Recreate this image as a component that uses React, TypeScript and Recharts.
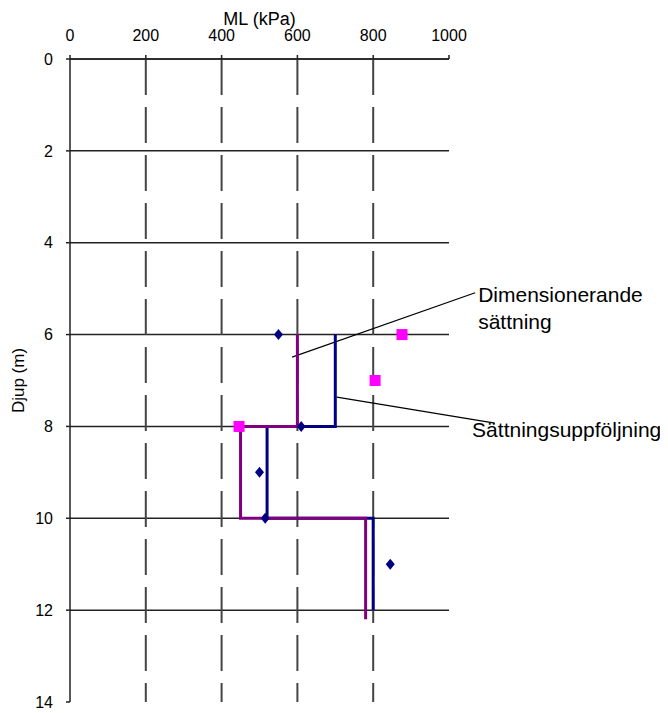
import {
  ScatterChart,
  Scatter,
  XAxis,
  YAxis,
  CartesianGrid,
  ReferenceLine,
  ReferenceDot,
} from "recharts";

const FONT = '"Liberation Sans", Arial, sans-serif';

// Axis ticks
const mlTicks = [0, 200, 400, 600, 800, 1000];
const depthTicks = [0, 2, 4, 6, 8, 10, 12, 14];
const depthGrid = [0, 2, 4, 6, 8, 10, 12];
const mlGrid = [200, 400, 600, 800];

// Measured ML values (kPa) against depth (m)
const diamondPoints = [
  { ml: 550, depth: 6 },
  { ml: 610, depth: 8 },
  { ml: 500, depth: 9 },
  { ml: 515, depth: 10 },
  { ml: 845, depth: 11 },
];
const squarePoints = [
  { ml: 876, depth: 6 },
  { ml: 805, depth: 7 },
  { ml: 446, depth: 8 },
];

// Layered ML profiles: one value per depth interval
const followUpLayers = [
  { top: 6, bottom: 8, ml: 700 },
  { top: 8, bottom: 10, ml: 520 },
  { top: 10, bottom: 12, ml: 800 },
];
const designLayers = [
  { top: 6, bottom: 8, ml: 600 },
  { top: 8, bottom: 10, ml: 450 },
  { top: 10, bottom: 12.2, ml: 780 },
];

// Callout texts and their leader lines, in data units
const callouts = [
  { ml: 1077, depth: 5.29, text: "Dimensionerande" },
  { ml: 1077, depth: 5.88, text: "sättning" },
  { ml: 1061, depth: 8.23, text: "Sättningsuppföljning" },
];
const leaders = [
  { from: { ml: 586, depth: 6.49 }, to: { ml: 1069, depth: 5.09 } },
  { from: { ml: 704, depth: 7.36 }, to: { ml: 1121, depth: 7.93 } },
];

function toSteps(layers: { top: number; bottom: number; ml: number }[]) {
  const pts: { ml: number; depth: number }[] = [];
  layers.forEach((l) => {
    pts.push({ ml: l.ml, depth: l.top });
    pts.push({ ml: l.ml, depth: l.bottom });
  });
  return pts;
}

const followUpSteps = toSteps(followUpLayers);
const designSteps = toSteps(designLayers);

const NoMarker = () => <g />;

function Diamond(props: any) {
  const { cx, cy } = props;
  return (
    <polygon
      points={`${cx},${cy - 5.5} ${cx + 4.5},${cy} ${cx},${cy + 5.5} ${cx - 4.5},${cy}`}
      fill="#000080"
    />
  );
}

function Square(props: any) {
  const { cx, cy } = props;
  return <rect x={cx - 5.5} y={cy - 5.5} width={11} height={11} fill="#ff00ff" />;
}

function calloutShape(text: string) {
  return (props: any) => (
    <text x={props.cx} y={props.cy} fontSize={21} fontFamily={FONT} fill="#000">
      {text}
    </text>
  );
}

function DepthTitle(props: any) {
  const vb = props.viewBox;
  const cx = vb.x + 10;
  const cy = vb.y + vb.height / 2;
  return (
    <text
      x={cx}
      y={cy}
      transform={`rotate(-90 ${cx} ${cy})`}
      textAnchor="middle"
      dominantBaseline="central"
      fontSize={17}
      fontFamily={FONT}
      fill="#000"
    >
      Djup (m)
    </text>
  );
}

function MlTitle(props: any) {
  const vb = props.viewBox;
  return (
    <text
      x={vb.x + vb.width / 2}
      y={vb.y + 6}
      textAnchor="middle"
      fontSize={18}
      fontFamily={FONT}
      fill="#000"
    >
      ML (kPa)
    </text>
  );
}

export default function App() {
  const tickStyle = { fontSize: 16, fontFamily: FONT, fill: "#000" };
  return (
    <ScatterChart
      width={660}
      height={705}
      margin={{ top: 11, right: 219, bottom: 11, left: 0 }}
      style={{ fontFamily: FONT }}
    >
      <CartesianGrid
        vertical={false}
        horizontalValues={depthGrid}
        stroke="#222"
        strokeWidth={1.5}
      />
      <CartesianGrid
        horizontal={false}
        verticalValues={mlGrid}
        stroke="#444"
        strokeWidth={2}
        strokeDasharray="36 12"
      />
      <XAxis
        type="number"
        dataKey="ml"
        orientation="top"
        domain={[0, 1000]}
        ticks={mlTicks}
        interval={0}
        height={40}
        tick={tickStyle}
        tickSize={4}
        tickMargin={14}
        axisLine={{ stroke: "#222", strokeWidth: 1.5 }}
        tickLine={{ stroke: "#222", strokeWidth: 1.5 }}
        label={{ content: <MlTitle /> }}
      />
      <YAxis
        type="number"
        dataKey="depth"
        domain={[0, 14]}
        reversed
        ticks={depthTicks}
        interval={0}
        width={62}
        tick={tickStyle}
        tickSize={4}
        tickMargin={13}
        axisLine={{ stroke: "#222", strokeWidth: 1.5 }}
        tickLine={{ stroke: "#222", strokeWidth: 1.5 }}
        label={{ content: <DepthTitle /> }}
      />

      <Scatter
        name="Sättningsuppföljning"
        data={followUpSteps}
        shape={NoMarker}
        line={{ stroke: "#000080", strokeWidth: 3 }}
        lineType="joint"
        isAnimationActive={false}
      />
      <Scatter
        name="Dimensionerande sättning"
        data={designSteps}
        shape={NoMarker}
        line={{ stroke: "#800080", strokeWidth: 3 }}
        lineType="joint"
        isAnimationActive={false}
      />
      <Scatter data={diamondPoints} shape={Diamond} isAnimationActive={false} />
      <Scatter data={squarePoints} shape={Square} isAnimationActive={false} />

      {leaders.map((l, i) => (
        <ReferenceLine
          key={`leader-${i}`}
          segment={[
            { x: l.from.ml, y: l.from.depth },
            { x: l.to.ml, y: l.to.depth },
          ]}
          stroke="#000"
          strokeWidth={1.2}
          ifOverflow="visible"
        />
      ))}
      {callouts.map((c, i) => (
        <ReferenceDot
          key={`callout-${i}`}
          x={c.ml}
          y={c.depth}
          ifOverflow="visible"
          shape={calloutShape(c.text)}
        />
      ))}
    </ScatterChart>
  );
}
